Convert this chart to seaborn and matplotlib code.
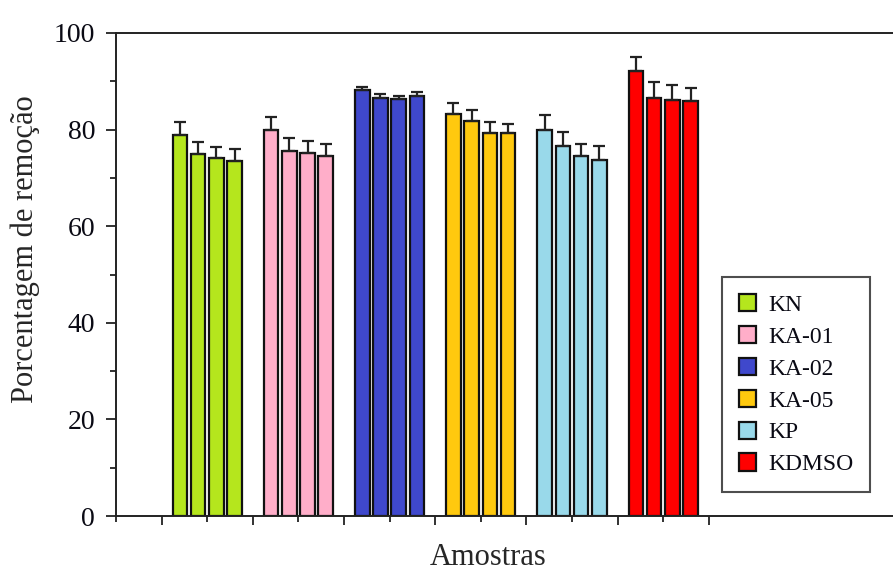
import numpy as np
import pandas as pd
import matplotlib
matplotlib.use("Agg")
import matplotlib.pyplot as plt
from matplotlib.patches import Patch
from matplotlib.ticker import MultipleLocator, FixedLocator, NullFormatter
import seaborn as sns

# Sample groups and their four replicate removal percentages
samples = ["KN", "KA-01", "KA-02", "KA-05", "KP", "KDMSO"]
replicates = ["1", "2", "3", "4"]
kn = [78.9, 74.9, 74.1, 73.5]
ka01 = [80.0, 75.6, 75.2, 74.5]
ka02 = [88.1, 86.6, 86.3, 87.0]
ka05 = [83.2, 81.8, 79.2, 79.2]
kp = [80.0, 76.7, 74.5, 73.8]
kdmso = [92.1, 86.5, 86.2, 85.9]

# Upper standard deviations
kn_err = [2.6, 2.5, 2.3, 2.4]
ka01_err = [2.6, 2.6, 2.5, 2.6]
ka02_err = [0.7, 0.7, 0.7, 0.7]
ka05_err = [2.3, 2.2, 2.3, 2.0]
kp_err = [3.0, 2.9, 2.5, 2.8]
kdmso_err = [3.0, 3.4, 3.0, 2.8]

colors = ["#b5e61d", "#ffaec9", "#3f48cc", "#ffc90e", "#99d9ea", "#ff0000"]

values = [kn, ka01, ka02, ka05, kp, kdmso]
errors = [kn_err, ka01_err, ka02_err, ka05_err, kp_err, kdmso_err]

df = pd.DataFrame({
    "Amostra": np.repeat(samples, len(replicates)),
    "Replicata": replicates * len(samples),
    "Remocao": np.concatenate(values),
    "Erro": np.concatenate(errors),
})

sns.set_theme(style="ticks")
plt.rcParams["font.family"] = ["Liberation Serif", "DejaVu Serif"]
plt.rcParams["text.color"] = "#0a0a14"

fig = plt.figure(figsize=(8.93, 5.73), dpi=100)
ax = fig.add_axes([116 / 893, 57 / 573, 777 / 893, 483 / 573])

sns.barplot(data=df, x="Amostra", y="Remocao", hue="Replicata",
            order=samples, hue_order=replicates, width=0.8, gap=0.2,
            edgecolor="#111111", linewidth=1.6, legend=False, ax=ax)

# Recolour each bar by its sample and add one-sided error bars
bars = sorted([p for p in ax.patches if p.get_height() > 0],
              key=lambda p: p.get_x())
xs, ys, es = [], [], []
for i, p in enumerate(bars):
    g = i // len(replicates)
    r = i % len(replicates)
    p.set_facecolor(colors[g])
    xs.append(p.get_x() + p.get_width() / 2)
    ys.append(values[g][r])
    es.append(errors[g][r])
ax.errorbar(xs, ys, yerr=[np.zeros(len(es)), es], fmt="none",
            ecolor="#222222", elinewidth=1.6, capsize=4, capthick=1.6, zorder=3)

ax.set_xlim(-1, 7.52)
ax.set_ylim(0, 100)

ax.xaxis.set_major_locator(FixedLocator(np.arange(-0.5, 6.0, 1.0)))
ax.xaxis.set_minor_locator(FixedLocator(np.arange(-1, 6, 1.0)))
ax.xaxis.set_major_formatter(NullFormatter())
ax.yaxis.set_major_locator(MultipleLocator(20))
ax.yaxis.set_minor_locator(MultipleLocator(10))

ax.tick_params(axis="x", which="major", length=6.5, width=1.3, direction="out",
               color="#222222")
ax.tick_params(axis="x", which="minor", length=4.3, width=1.3, direction="out",
               color="#222222")
ax.tick_params(axis="y", which="major", length=7, width=1.3, direction="out",
               labelsize=20, pad=8, color="#222222", labelcolor="#0a0a14")
ax.tick_params(axis="y", which="minor", length=4.5, width=1.3, direction="out",
               color="#222222")

for s in ["left", "bottom", "top"]:
    ax.spines[s].set_linewidth(1.4)
    ax.spines[s].set_color("#222222")
ax.spines["right"].set_visible(False)

ax.set_xlabel("Amostras", fontsize=22)
ax.set_ylabel("Porcentagem de remoção", fontsize=22)
ax.xaxis.set_label_coords(0.479, -0.055)
ax.yaxis.set_label_coords(-0.098, 0.553)

handles = [Patch(facecolor=c, edgecolor="#111111", linewidth=1.6, label=s)
           for c, s in zip(colors, samples)]
leg = ax.legend(handles=handles, loc="lower left", bbox_to_anchor=(0.78, 0.05),
                fontsize=17, frameon=True, fancybox=False, edgecolor="#222222",
                handlelength=0.72, handleheight=0.76, handletextpad=0.55,
                labelspacing=0.42, borderpad=0.7, borderaxespad=0)
leg.get_frame().set_linewidth(1.5)

fig.savefig("out.png", dpi=100)
